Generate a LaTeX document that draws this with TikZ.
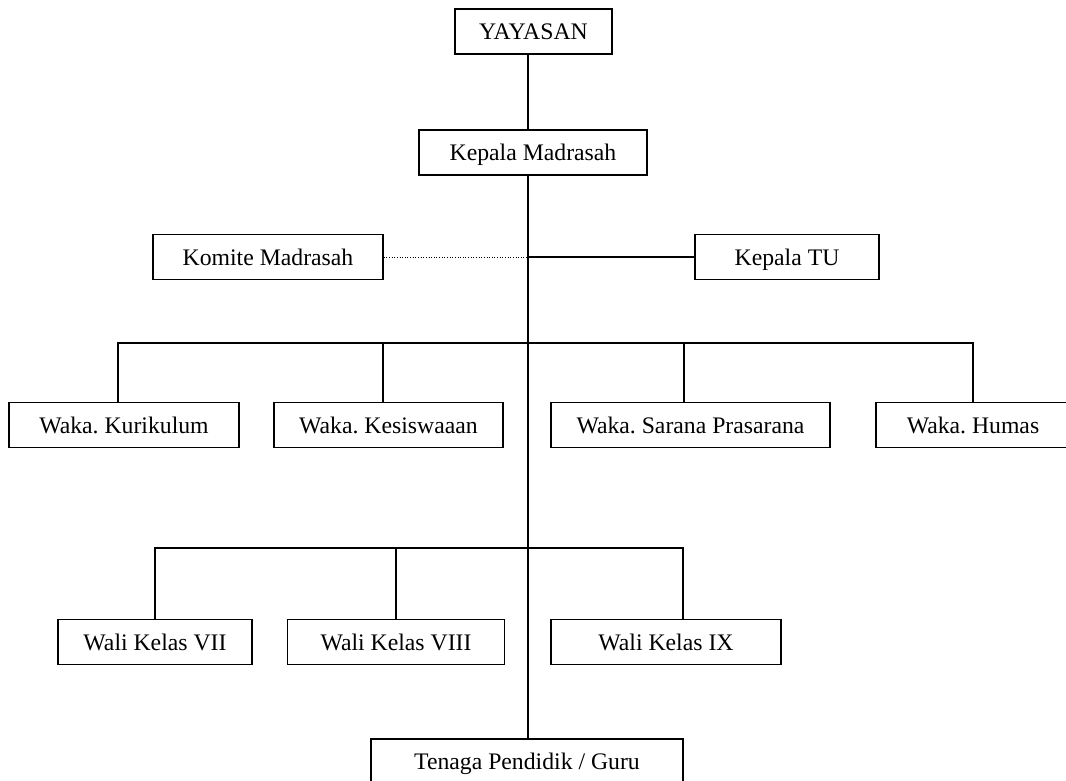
\documentclass[tikz,border=0pt]{standalone}
\usepackage{fontspec}
\setmainfont{Liberation Serif}
\usepackage{tikz}
\frenchspacing

\begin{document}
\begin{tikzpicture}[x=0.2mm, y=-0.2mm, line width=0.8pt,
	every node/.style={font=\fontsize{13.5}{16}\selectfont},
	box/.style={draw, line width=0.8pt, minimum height=9mm, inner sep=0pt, text height=9.6pt, text depth=0pt}]
	\clip (0,0) rectangle (1066,780);
	\node[box, minimum width=31.4mm] (yayasan) at (533.5,31.5) {YAYASAN};
	\node[box, minimum width=45.6mm] (kamad) at (533,152.5) {Kepala Madrasah};
	\node[box, minimum width=46mm] (komite) at (268,257) {Komite Madrasah};
	\node[box, minimum width=36.8mm] (katu) at (787,257) {Kepala TU};
	\node[box, minimum width=46mm] (kurikulum) at (124,425) {Waka. Kurikulum};
	\node[box, minimum width=45.8mm] (kesiswaan) at (388.5,425) {Waka. Kesiswaaan};
	\node[box, minimum width=55.8mm] (sarpras) at (690.5,425) {Waka. Sarana Prasarana};
	\node[box, minimum width=38.8mm] (humas) at (973,425) {Waka. Humas};
	\node[box, minimum width=38.8mm] (wali7) at (155,642) {Wali Kelas VII};
	\node[box, minimum width=43.4mm] (wali8) at (396,642) {Wali Kelas VIII};
	\node[box, minimum width=46mm] (wali9) at (666,642) {Wali Kelas IX};
	\node[box, minimum width=62.4mm] (guru) at (527,761.5) {Tenaga Pendidik / Guru};
	% garis utama
	\coordinate (trunk) at (528,0);
	\coordinate (cabang1) at (528,343);
	\coordinate (cabang2) at (528,548);
	\draw (yayasan.south -| trunk) -- (kamad.north -| trunk);
	\draw (kamad.south -| trunk) -- (guru.north -| trunk);
	\draw[densely dotted, line width=0.5pt] (komite.east) -- (komite.east -| trunk);
	\draw (katu.west -| trunk) -- (katu.west);
	% wakil kepala
	\draw (kurikulum.north -| 118,0) |- (cabang1) -| (humas.north);
	\draw (cabang1 -| 383,0) -- (kesiswaan.north -| 383,0);
	\draw (cabang1 -| 684,0) -- (sarpras.north -| 684,0);
	% wali kelas
	\draw (wali7.north) |- (cabang2) -| (wali9.north -| 683,0);
	\draw (cabang2 -| wali8.north) -- (wali8.north);
\end{tikzpicture}
\end{document}
